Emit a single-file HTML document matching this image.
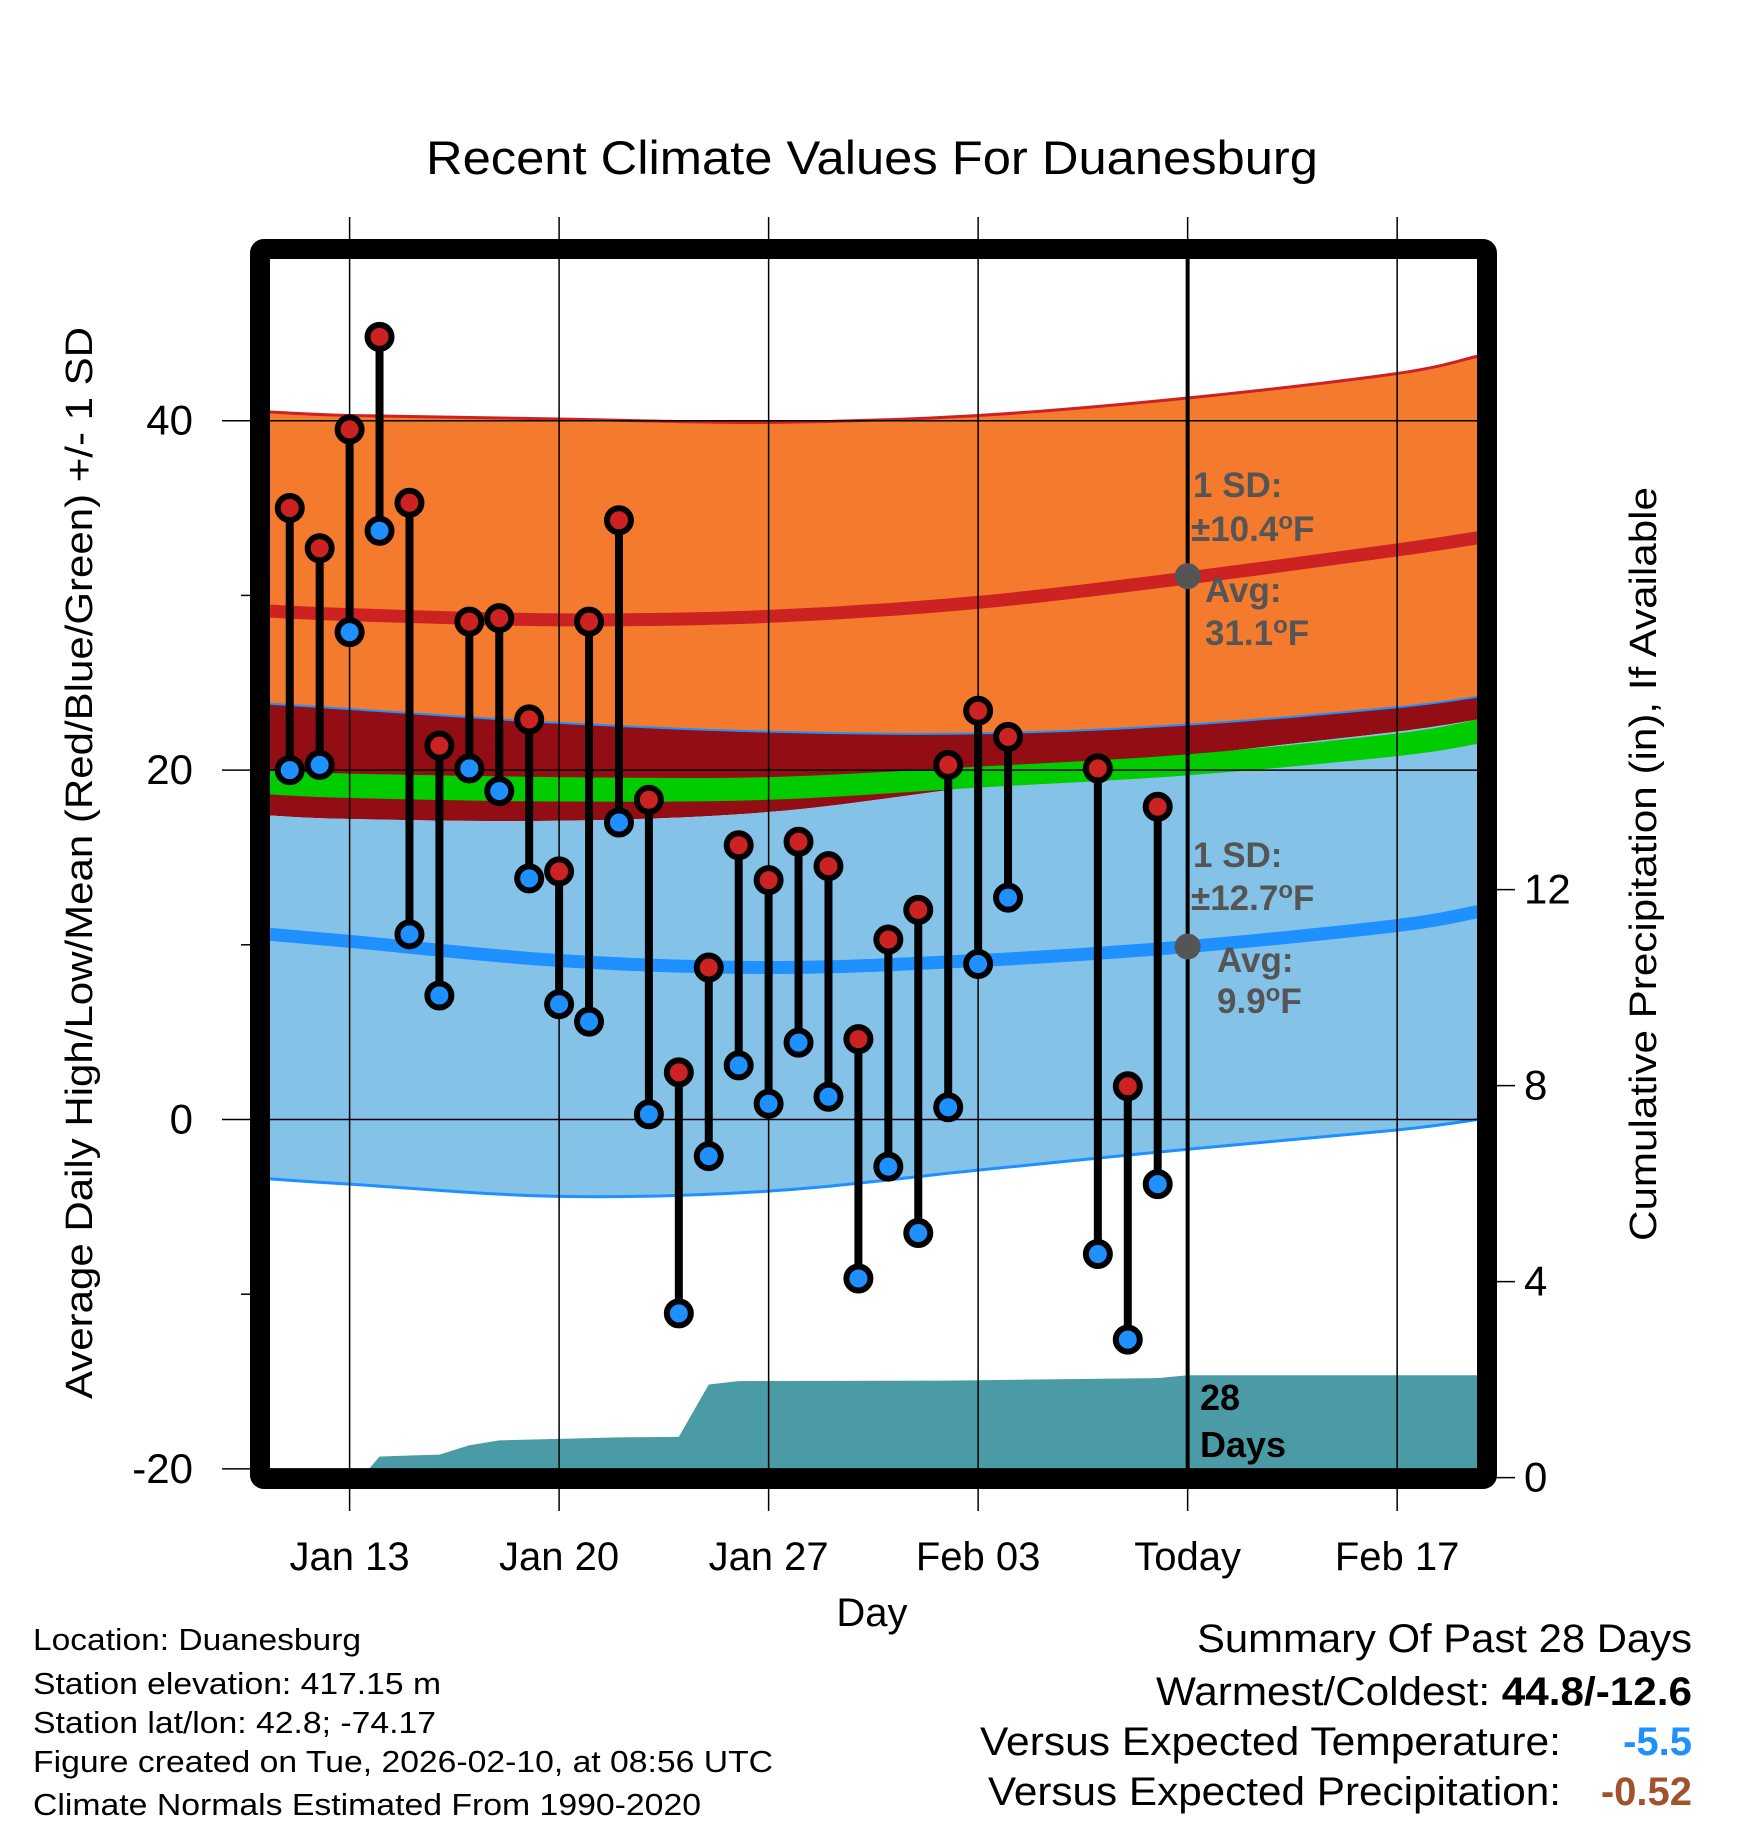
<!DOCTYPE html>
<html><head><meta charset="utf-8"><style>
html,body{margin:0;padding:0;background:#fff}
svg{display:block}
text{font-family:"Liberation Sans",Arial,sans-serif}
</style></head><body>
<svg id="chart" width="1748" height="1828" viewBox="0 0 1748 1828" xmlns="http://www.w3.org/2000/svg">
<defs><clipPath id="plotclip"><rect x="270" y="259" width="1207" height="1210"/></clipPath></defs>
<g id="fills" clip-path="url(#plotclip)"></g>
<g id="grid"></g>
<g id="marks"></g>
<g id="labels"></g>
</svg>
<script>
// ---- data ----
const normDays = [-2.66, 0, 7, 14, 21, 28, 35, 37.7];
const highPlus = [40.5, 40.3, 40.1, 39.9, 40.3, 41.3, 42.7, 43.7];
const highMean = [29.1, 28.9, 28.6, 28.8, 29.6, 31.0, 32.6, 33.3];
const highMinus = [23.8, 23.5, 22.7, 22.2, 22.1, 22.6, 23.6, 24.2];
const lowPlus = [17.4, 17.2, 17.1, 17.6, 19.1, 20.8, 22.2, 22.9];
const greenTop = [20.0, 19.8, 19.6, 19.6, 20.2, 20.9, 22.1, 22.9];
const greenBot = [18.6, 18.4, 18.2, 18.3, 19.0, 19.7, 20.8, 21.5];
const lowMean = [10.6, 10.2, 9.1, 8.7, 9.1, 9.9, 11.1, 11.9];
const lowMinus = [-3.4, -3.7, -4.4, -4.1, -2.9, -1.7, -0.6, 0.0];

const obsDays = [-2,-1,0,1,2,3,4,5,6,7,8,9,10,11,12,13,14,15,16,17,18,19,20,21,22,25,26,27];
const highs = [35.0,32.7,39.5,44.8,35.3,21.4,28.5,28.7,22.9,14.2,28.5,34.3,18.3,2.7,8.7,15.7,13.7,15.9,14.5,4.6,10.3,12.0,20.3,23.4,21.9,20.1,1.9,17.9];
const lows = [20.0,20.3,27.9,33.7,10.6,7.1,20.1,18.8,13.8,6.6,5.6,17.0,0.3,-11.1,-2.1,3.1,0.9,4.4,1.3,-9.1,-2.7,-6.5,0.7,8.9,12.7,-7.7,-12.6,-3.7];

const precipDays = [-2.66, 0.4, 1, 2, 3, 4, 5, 7, 9, 11, 12, 13, 20, 27, 28, 37.7];
const precipCum = [0, 0, 0.43, 0.45, 0.47, 0.66, 0.76, 0.79, 0.82, 0.83, 1.90, 1.97, 1.98, 2.03, 2.09, 2.09];

const xTickDays = [0, 7, 14, 21, 28, 35];
const xTickLabels = ["Jan 13","Jan 20","Jan 27","Feb 03","Today","Feb 17"];
const yTicks = [40, 20, 0, -20];
const yMinor = [30, 10, -10];
const pTicks = [12, 8, 4, 0];

// ---- axes ----
const X = d => 349.6 + 29.93 * d;
const Y = t => 1119.5 - 17.47 * t;
const P = p => 1477.6 - 49.0 * p;
const NS = "http://www.w3.org/2000/svg";
function mk(tag, attrs, parent, txt){const e=document.createElementNS(NS,tag);for(const k in attrs)e.setAttribute(k,attrs[k]);if(txt!==undefined)e.textContent=txt;parent.appendChild(e);return e;}
function pts(xs, vals, fy){return xs.map((d,i)=>[X(d), fy(vals[i])]);}
function smooth(p){let s="M"+p[0][0]+","+p[0][1];for(let i=0;i<p.length-1;i++){const p0=p[Math.max(0,i-1)],p1=p[i],p2=p[i+1],p3=p[Math.min(p.length-1,i+2)];
 const c1=[p1[0]+(p2[0]-p0[0])/6,p1[1]+(p2[1]-p0[1])/6],c2=[p2[0]-(p3[0]-p1[0])/6,p2[1]-(p3[1]-p1[1])/6];s+=" C"+c1+" "+c2+" "+p2;}return s;}
function band(a,b){const top=pts(normDays,a,Y), bot=pts(normDays,b,Y).reverse();const sb=smooth(bot);return smooth(top)+" L"+sb.slice(1)+" Z";}
const fills=document.getElementById("fills"), grid=document.getElementById("grid"), marks=document.getElementById("marks"), labels=document.getElementById("labels");

let e;
e=mk("path",{d:band(highPlus,highMinus),fill:"#f47a2e"},fills);


e=mk("path",{d:band(highMinus,lowPlus),fill:"#930d15"},fills);


e=mk("path",{d:band(lowPlus,lowMinus),fill:"#85c2e8"},fills);


e=mk("path",{d:band(greenTop,greenBot),fill:"#00cc00"},fills);


e=mk("path",{d:smooth(pts(normDays,highPlus,Y)),fill:"none",stroke:"#cc2222","stroke-width":3},fills);


e=mk("path",{d:smooth(pts(normDays,highMinus,Y)),fill:"none",stroke:"#1e90ff","stroke-width":2},fills);


e=mk("path",{d:smooth(pts(normDays,lowMinus,Y)),fill:"none",stroke:"#1e90ff","stroke-width":3},fills);


e=mk("path",{d:smooth(pts(normDays,highMean,Y)),fill:"none",stroke:"#cc2222","stroke-width":13},fills);


e=mk("path",{d:smooth(pts(normDays,lowMean,Y)),fill:"none",stroke:"#1e90ff","stroke-width":13},fills);


// precip
let pd="M"+X(precipDays[0])+",1480";
precipDays.forEach((d,i)=>{pd+=" L"+X(d)+","+P(precipCum[i]);});
pd+=" L"+X(precipDays[precipDays.length-1])+",1480 Z";
e=mk("path",{d:pd,fill:"#4a9ba5"},fills);



// grid
xTickDays.forEach((d,i)=>{
 e=mk("line",{x1:X(d),x2:X(d),y1:217,y2:1511,stroke:"#000","stroke-width":1.5},grid);
 
 
 e=mk("text",{x:X(d),y:1570,"text-anchor":"middle","font-size":40},labels,xTickLabels[i]);
 
 
});
yTicks.forEach(t=>{
 e=mk("line",{x1:222,x2:1477,y1:Y(t),y2:Y(t),stroke:"#000","stroke-width":1.5},grid);
 
 
 e=mk("text",{x:193,y:Y(t)+14,"text-anchor":"end","font-size":42},labels,String(t));
 
 
});
yMinor.forEach(t=>{
 e=mk("line",{x1:241,x2:255,y1:Y(t),y2:Y(t),stroke:"#000","stroke-width":1.5},grid);
 
 
});
pTicks.forEach(p=>{
 e=mk("line",{x1:1490,x2:1515,y1:P(p),y2:P(p),stroke:"#000","stroke-width":1.5},grid);
 
 
 e=mk("text",{x:1524,y:P(p)+14,"text-anchor":"start","font-size":42},labels,String(p));
 
 
});
// today line
e=mk("line",{x1:X(28),x2:X(28),y1:259,y2:1469,stroke:"#000","stroke-width":4},grid);



// stems and dots
obsDays.forEach((d,i)=>{
 e=mk("line",{x1:X(d),x2:X(d),y1:Y(highs[i]),y2:Y(lows[i]),stroke:"#000","stroke-width":8},marks);
 
 
});
obsDays.forEach((d,i)=>{
 e=mk("circle",{cx:X(d),cy:Y(highs[i]),r:12,fill:"#cc2222",stroke:"#000","stroke-width":6},marks);
 
 
 e=mk("circle",{cx:X(d),cy:Y(lows[i]),r:12,fill:"#1e90ff",stroke:"#000","stroke-width":6},marks);
 
 
});
e=mk("circle",{cx:X(28),cy:Y(31.1),r:13,fill:"#555"},marks);


e=mk("circle",{cx:X(28),cy:Y(9.9),r:13,fill:"#555"},marks);


</script>
<svg style="position:absolute;left:0;top:0" width="1748" height="1828" viewBox="0 0 1748 1828" xmlns="http://www.w3.org/2000/svg">
<rect x="260" y="249" width="1227" height="1230" fill="none" stroke="#000" stroke-width="20" rx="4"/>
<g font-weight="bold" fill="#555" font-size="35">
<text x="1193" y="497">1 SD:</text>
<text x="1191" y="541">±10.4<tspan dy="-12" font-size="24">o</tspan><tspan dy="12">F</tspan></text>
<text x="1205" y="602">Avg:</text>
<text x="1205" y="645">31.1<tspan dy="-12" font-size="24">o</tspan><tspan dy="12">F</tspan></text>
<text x="1193" y="867">1 SD:</text>
<text x="1191" y="910">±12.7<tspan dy="-12" font-size="24">o</tspan><tspan dy="12">F</tspan></text>
<text x="1217" y="972">Avg:</text>
<text x="1217" y="1013">9.9<tspan dy="-12" font-size="24">o</tspan><tspan dy="12">F</tspan></text>
</g>
<g font-weight="bold" fill="#000" font-size="36">
<text x="1200" y="1410">28</text>
<text x="1200" y="1457">Days</text>
</g>
<text x="872" y="174" text-anchor="middle" font-size="47" textLength="892" lengthAdjust="spacingAndGlyphs">Recent Climate Values For Duanesburg</text>
<text x="872" y="1626" text-anchor="middle" font-size="40">Day</text>
<text transform="translate(92,863) rotate(-90)" text-anchor="middle" font-size="38" textLength="1072" lengthAdjust="spacingAndGlyphs">Average Daily High/Low/Mean (Red/Blue/Green) +/- 1 SD</text>
<text transform="translate(1656,864) rotate(-90)" text-anchor="middle" font-size="38" textLength="754" lengthAdjust="spacingAndGlyphs">Cumulative Precipitation (in), If Available</text>
<g font-size="31">
<text x="33" y="1650" textLength="328" lengthAdjust="spacingAndGlyphs">Location: Duanesburg</text>
<text x="33" y="1694" textLength="408" lengthAdjust="spacingAndGlyphs">Station elevation: 417.15 m</text>
<text x="33" y="1733" textLength="403" lengthAdjust="spacingAndGlyphs">Station lat/lon: 42.8; -74.17</text>
<text x="33" y="1772" textLength="740" lengthAdjust="spacingAndGlyphs">Figure created on Tue, 2026-02-10, at 08:56 UTC</text>
<text x="33" y="1815" textLength="668" lengthAdjust="spacingAndGlyphs">Climate Normals Estimated From 1990-2020</text>
</g>
<g font-size="40">
<text x="1197" y="1652" textLength="495" lengthAdjust="spacingAndGlyphs">Summary Of Past 28 Days</text>
<text x="1156" y="1705" textLength="536" lengthAdjust="spacingAndGlyphs">Warmest/Coldest: <tspan font-weight="bold">44.8/-12.6</tspan></text>
<text x="980" y="1755" textLength="581" lengthAdjust="spacingAndGlyphs">Versus Expected Temperature:</text>
<text x="1692" y="1755" text-anchor="end" font-weight="bold" fill="#1e90ff">-5.5</text>
<text x="988" y="1805" textLength="573" lengthAdjust="spacingAndGlyphs">Versus Expected Precipitation:</text>
<text x="1692" y="1805" text-anchor="end" font-weight="bold" fill="#a0522d">-0.52</text>
</g>
</svg>
</body></html>
